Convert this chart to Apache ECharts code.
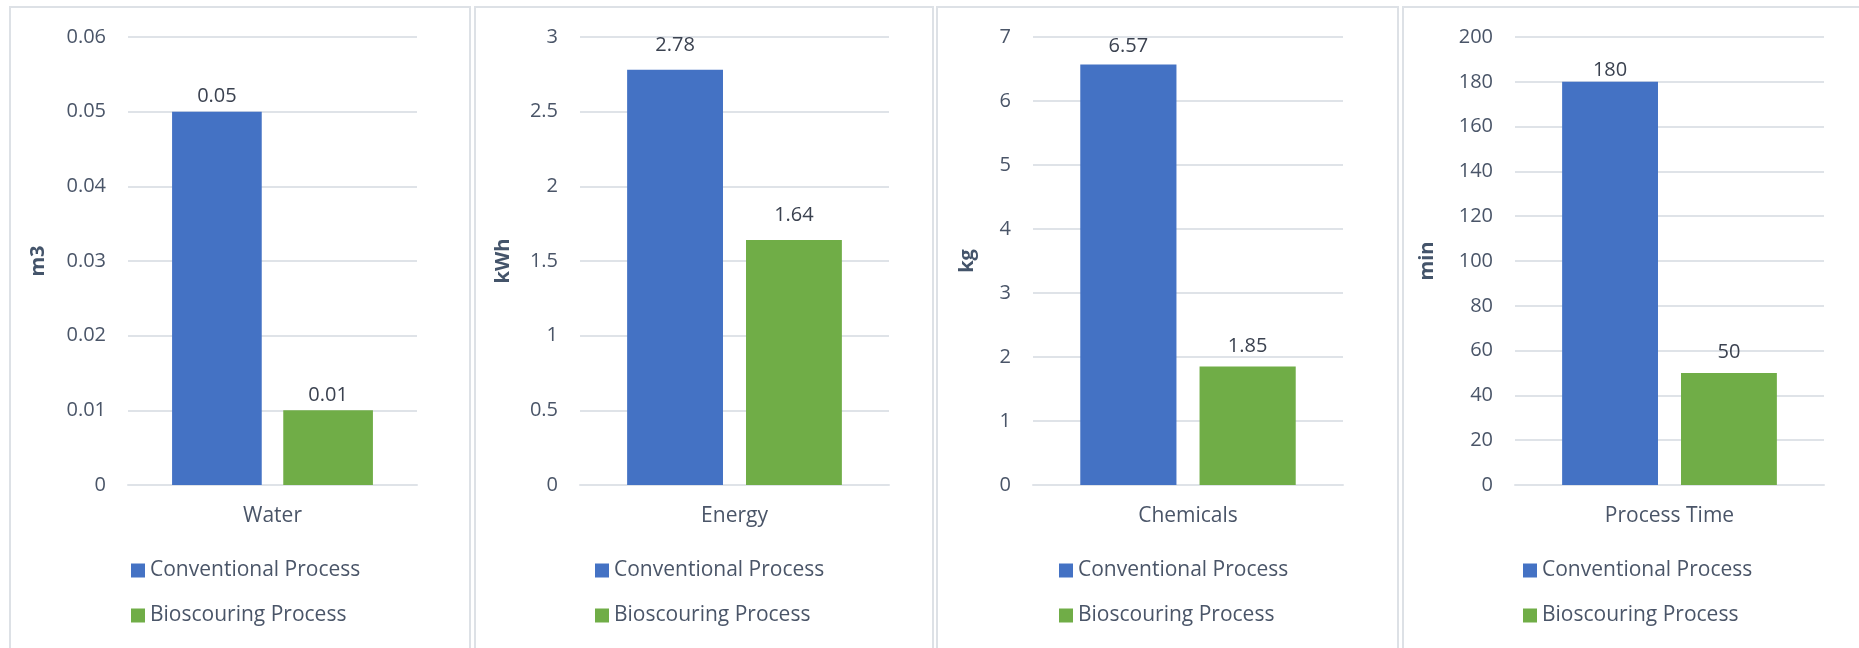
<!DOCTYPE html>
<html>
<head>
<meta charset="utf-8">
<script src="https://cdn.jsdelivr.net/npm/echarts@6/dist/echarts.min.js"></script>
<style>
  html, body { margin: 0; padding: 0; background: #ffffff; }
  #chart { width: 1859px; height: 648px; }
</style>
</head>
<body>
<div id="chart"></div>
<script>
// Resource use per scouring method, one small chart per resource
const categories = ['Water', 'Energy', 'Chemicals', 'Process Time'];
const units = ['m3', 'kWh', 'kg', 'min'];
const seriesNames = ['Conventional Process', 'Bioscouring Process'];
const conventional = [0.05, 2.78, 6.57, 180];
const bioscouring = [0.01, 1.64, 1.85, 50];
const axisMax = [0.06, 3, 7, 200];
const axisStep = [0.01, 0.5, 1, 20];

// Layout of the four panels (pixels)
const panels = [
  { box: [10, 7, 460, 700], gridLeft: 128, gridWidth: 289, nameGap: 80, legendLeft: 131 },
  { box: [475, 7, 458, 700], gridLeft: 580, gridWidth: 309, nameGap: 67, legendLeft: 595 },
  { box: [937, 7, 461, 700], gridLeft: 1033, gridWidth: 310, nameGap: 56, legendLeft: 1059 },
  { box: [1403, 7, 470, 700], gridLeft: 1515, gridWidth: 309, nameGap: 78, legendLeft: 1523 }
];
const labelDistance = [[5, 5], [15, 15], [8, 10], [2, 11]];

const FONT = 'Open Sans';
const TEXT = '#4a5568';
const GRID_LINE = '#dfe3e8';
const COLORS = ['#4472c4', '#70ad47'];

const grid = [], xAxis = [], yAxis = [], series = [], legend = [], graphic = [];

panels.forEach((p, i) => {
  graphic.push({
    type: 'rect', silent: true, z: -10,
    shape: { x: p.box[0], y: p.box[1], width: p.box[2], height: p.box[3] },
    style: { fill: '#ffffff', stroke: '#dde1e6', lineWidth: 2 }
  });

  grid.push({ left: p.gridLeft, width: p.gridWidth, top: 37, bottom: 163 });

  xAxis.push({
    type: 'category', gridIndex: i, data: [categories[i]],
    axisTick: { show: false },
    axisLine: { lineStyle: { color: GRID_LINE, width: 2 } },
    axisLabel: { margin: 21, color: TEXT, fontFamily: FONT, fontSize: 21 }
  });

  yAxis.push({
    type: 'value', gridIndex: i, min: 0, max: axisMax[i], interval: axisStep[i],
    name: units[i], nameLocation: 'middle', nameRotate: 90, nameGap: p.nameGap,
    nameTextStyle: { color: '#44546a', fontFamily: FONT, fontSize: 20, fontWeight: 'bold' },
    axisLine: { show: false }, axisTick: { show: false },
    splitLine: { lineStyle: { color: GRID_LINE, width: 2 } },
    axisLabel: { margin: 22, color: TEXT, fontFamily: FONT, fontSize: 20 }
  });

  [conventional, bioscouring].forEach((values, s) => {
    series.push({
      type: 'bar', name: seriesNames[s], xAxisIndex: i, yAxisIndex: i,
      data: [values[i]],
      barGap: '24%', barCategoryGap: '30.5%',
      itemStyle: { color: COLORS[s] },
      label: {
        show: true, position: 'top', distance: labelDistance[i][s],
        color: '#3b4250', fontFamily: FONT, fontSize: 20
      }
    });
  });

  legend.push({
    orient: 'vertical', left: p.legendLeft, top: 560, padding: 0,
    itemWidth: 14, itemHeight: 14, itemGap: 24, icon: 'rect',
    data: seriesNames,
    textStyle: { color: TEXT, fontFamily: FONT, fontSize: 21, lineHeight: 21, padding: [0, 0, 0, 0] }
  });
});

const chart = echarts.init(document.getElementById('chart'), null, { renderer: 'canvas' });
chart.setOption({
  backgroundColor: '#ffffff',
  animation: false,
  color: COLORS,
  graphic: graphic,
  grid: grid,
  xAxis: xAxis,
  yAxis: yAxis,
  legend: legend,
  series: series
});
</script>
</body>
</html>
